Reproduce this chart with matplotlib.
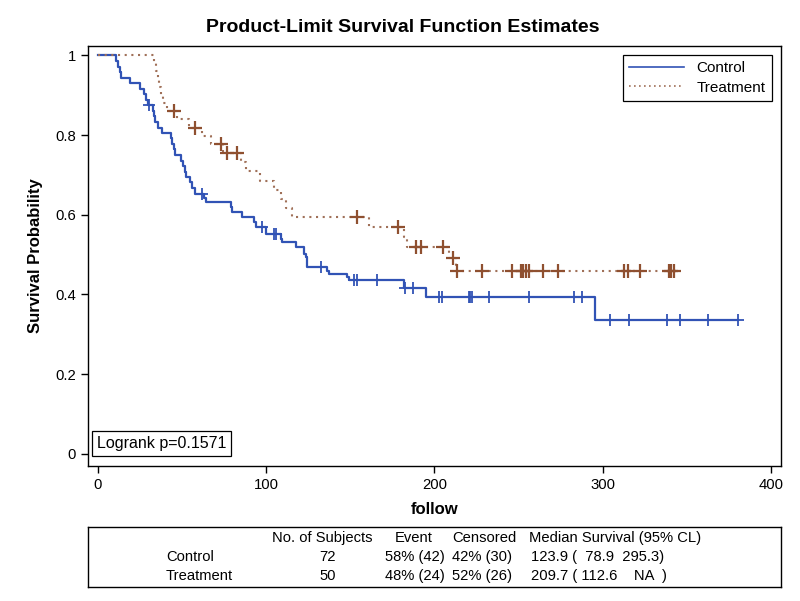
import numpy as np
import matplotlib
matplotlib.use("Agg")
import matplotlib.pyplot as plt

plt.rcParams["font.family"] = ["Liberation Sans", "DejaVu Sans"]

# Kaplan-Meier step data
ctrl_time = [0, 10.8, 12, 13, 14, 19.3, 24.9, 27.3, 28.3, 29.5, 32.7, 33.5, 34.2,
             35.7, 37.8, 43.2, 43.8, 45.1, 46.1, 49.1, 50.7, 51.5, 52.5, 54.5,
             56.1, 58, 63, 64, 79, 80, 85.5, 92.5, 94, 100, 108.6, 109.6, 117.6,
             122.5, 123.5, 124.1, 124.5, 136.4, 137.4, 148.3, 149.3, 182.0, 195,
             295.7]
ctrl_surv = [1.0, 0.986, 0.972, 0.958, 0.944, 0.931, 0.917, 0.903, 0.889, 0.875,
             0.861, 0.847, 0.833, 0.819, 0.806, 0.792, 0.778, 0.764, 0.750, 0.736,
             0.722, 0.708, 0.694, 0.681, 0.667, 0.653, 0.642, 0.631, 0.619, 0.606,
             0.594, 0.581, 0.569, 0.552, 0.539, 0.531, 0.518, 0.502, 0.493, 0.480,
             0.468, 0.460, 0.451, 0.443, 0.435, 0.416, 0.393, 0.336]
ctrl_cens = [30.2, 62, 97.7, 104.6, 106, 132.4, 152.3, 154.3, 165.8, 182.6, 187.6,
             202.9, 204.3, 220.5, 221.5, 222.5, 232.3, 256.4, 283.2, 287.8, 304.6,
             315.9, 338.3, 346.3, 362.6, 380.5]

trt_time = [0, 33.2, 34.5, 35.5, 36.5, 37.5, 38.5, 41, 47.1, 53.9, 62, 67, 74.5,
            84.8, 87.8, 96.5, 104.5, 108.6, 112, 115.6, 161.2, 182, 183.5, 208.8,
            212.8]
trt_surv = [1.0, 0.98, 0.96, 0.94, 0.92, 0.90, 0.88, 0.86, 0.840, 0.819, 0.798,
            0.777, 0.755, 0.732, 0.709, 0.686, 0.663, 0.640, 0.617, 0.594, 0.570,
            0.545, 0.520, 0.491, 0.460]
trt_cens = [45.1, 58, 72.9, 76.5, 82.9, 154.3, 178.7, 189, 192, 204.9, 211.4,
            213.4, 228.3, 246, 251.5, 253, 254.5, 256, 264.4, 273.3, 312.6, 315,
            322.5, 339.5, 341, 342.5]

groups = ["Control", "Treatment"]
n_subj = ["72", "50"]
events = ["58% (42)", "48% (24)"]
censored = ["42% (30)", "52% (26)"]
median = ["123.9 (  78.9  295.3)", "209.7 ( 112.6    NA  )"]
logrank = "Logrank p=0.1571"

BLUE = "#3153b5"
BROWN = "#8f5030"
DOTS = "#a07058"
FS = 10.6


def level_at(times, surv, t):
    idx = np.searchsorted(times, t, side="right") - 1
    return np.asarray(surv)[idx]


def km(ax, times, surv, cens, color, ls, mcolor, lw, ms, mew):
    end = max(cens)
    xs = list(times) + [end]
    ys = list(surv) + [surv[-1]]
    ax.step(xs, ys, where="post", color=color, ls=ls, lw=lw)
    cy = [level_at(times, surv, c) for c in cens]
    ax.plot(cens, cy, ls="none", marker="+", ms=ms, mew=mew, color=mcolor)


fig = plt.figure(figsize=(8, 6.01), dpi=100)
ax = fig.add_axes([0.11, 0.2246, 0.866, 0.699])

km(ax, ctrl_time, ctrl_surv, ctrl_cens, BLUE, "-", BLUE, 1.6, 8.5, 1.3)
km(ax, trt_time, trt_surv, trt_cens, DOTS, (0, (1, 2.2)), BROWN, 1.5, 9.5, 1.6)

ax.set_xlim(-5.9, 406)
ax.set_ylim(-0.031, 1.024)
ax.set_xticks([0, 100, 200, 300, 400])
ax.set_yticks([0, 0.2, 0.4, 0.6, 0.8, 1.0])
ax.set_yticklabels(["0", "0.2", "0.4", "0.6", "0.8", "1"])
ax.tick_params(labelsize=10.7, length=5, width=1)
for s in ax.spines.values():
    s.set_linewidth(1.0)

ax.set_xlabel("follow", fontsize=12, fontweight="bold", labelpad=7)
ax.set_ylabel("Survival Probability", fontsize=12, fontweight="bold", labelpad=9)
fig.text(0.503, 0.955, "Product-Limit Survival Function Estimates",
         ha="center", va="center", fontsize=14, fontweight="bold")

h1, = ax.plot([], [], color=BLUE, lw=1.2)
h2, = ax.plot([], [], color=DOTS, lw=1.2, ls=(0, (1, 2)))
leg = ax.legend([h1, h2], groups, loc="upper right", fontsize=11,
                handlelength=3.6, fancybox=False, framealpha=1,
                edgecolor="black", borderaxespad=0.6, labelspacing=0.35,
                borderpad=0.4)
leg.get_frame().set_linewidth(0.9)

ax.text(0.013, 0.036, logrank, transform=ax.transAxes, fontsize=11.5,
        ha="left", va="bottom",
        bbox=dict(boxstyle="square,pad=0.3", fc="white", ec="black", lw=0.9))

# summary table under the plot
tab = fig.add_axes([0.11, 0.023, 0.866, 0.1])
tab.set_xticks([]); tab.set_yticks([])
for s in tab.spines.values():
    s.set_linewidth(1.0)
tx = lambda px: (px - 88) / 693.0
hy, r1, r2 = 0.82, 0.5, 0.18
tab.text(tx(322), hy, "No. of Subjects", ha="center", va="center", fontsize=FS)
tab.text(tx(414), hy, "Event", ha="center", va="center", fontsize=FS)
tab.text(tx(484), hy, "Censored", ha="center", va="center", fontsize=FS)
tab.text(tx(529), hy, "Median Survival (95% CL)", ha="left", va="center", fontsize=FS)
for y, g, n, e, c, m in zip([r1, r2], groups, n_subj, events, censored, median):
    tab.text(tx(166), y, g, ha="left", va="center", fontsize=FS)
    tab.text(tx(328), y, n, ha="center", va="center", fontsize=FS)
    tab.text(tx(415), y, e, ha="center", va="center", fontsize=FS)
    tab.text(tx(482), y, c, ha="center", va="center", fontsize=FS)
    tab.text(tx(531), y, m, ha="left", va="center", fontsize=FS)

fig.savefig("out.png", dpi=100)
